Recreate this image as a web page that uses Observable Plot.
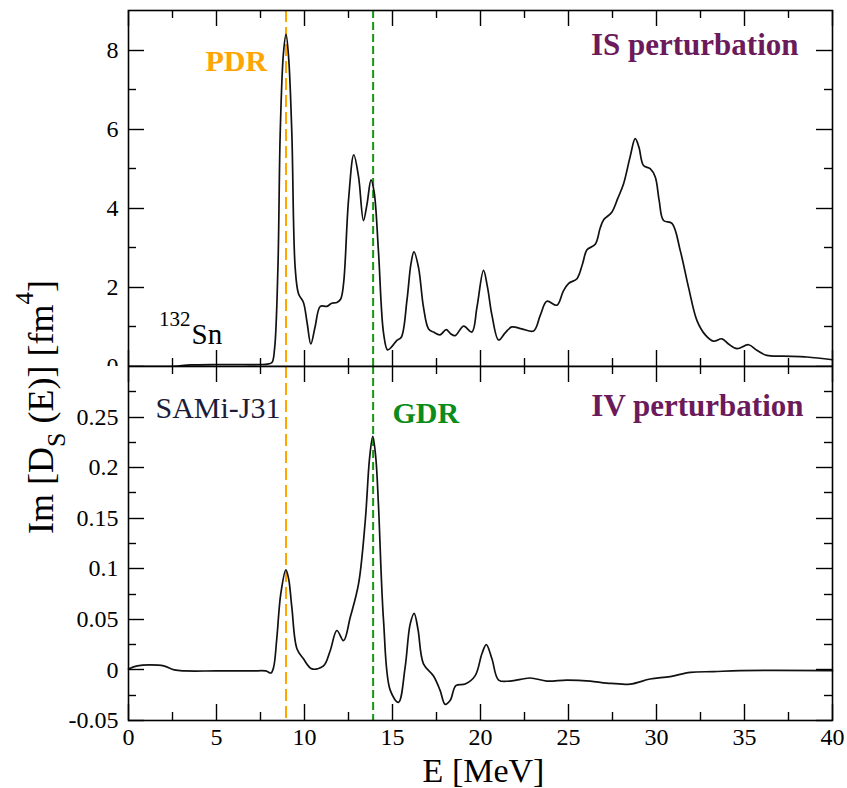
<!DOCTYPE html>
<html><head><meta charset="utf-8">
<script src="https://cdn.jsdelivr.net/npm/d3@7"></script>
<script src="https://cdn.jsdelivr.net/npm/@observablehq/plot@0.6"></script>
<style>
body{margin:0;background:#fff;}
#wrap{position:relative;width:847px;height:788px;font-family:"Liberation Serif",serif;}
#top{position:absolute;left:0;top:0;}
#bot{position:absolute;left:0;top:366px;}
#wrap svg{overflow:visible;}
#ytitle{position:absolute;left:41px;top:407px;transform:translate(-50%,-50%) rotate(-90deg);white-space:nowrap;font-size:36px;line-height:36px;color:#000;}
#ytitle .sub{font-size:26px;vertical-align:-12px;}
#ytitle .sup{font-size:25px;vertical-align:20px;}
</style></head><body>
<div id="wrap"><div id="top"></div><div id="bot"></div>
<div id="ytitle">Im [D<span class="sub">S</span> (E)] [fm<span class="sup">4</span>]</div></div>
<script>
// IS perturbation (top panel)
const topE = [0,2.5,3,3.5,5,6.5,7.5,7.9,8.15,8.3,8.49,8.62,8.8,8.95,9.1,9.28,9.47,9.66,9.94,10.15,10.36,10.6,10.9,11.27,11.55,11.84,12.05,12.22,12.5,12.8,13.07,13.35,13.55,13.78,13.96,14.2,14.49,14.72,14.96,15.25,15.5,15.82,16.05,16.22,16.48,16.76,17.05,17.33,17.7,18.05,18.3,18.56,19.04,19.51,19.8,20.17,20.4,20.65,21.03,21.4,21.78,22.35,23.02,23.4,23.77,24.34,24.7,25.01,25.48,25.8,26.05,26.52,26.8,27.0,27.46,27.8,28.13,28.5,28.79,29.0,29.26,29.64,29.93,30.15,30.4,30.88,31.35,31.82,32.3,32.77,33.24,33.72,34.09,34.57,35.23,35.7,36.27,37.22,38.55,40];
const topV = [0,0,0.02,0.04,0.05,0.05,0.05,0.06,0.1,0.45,2.5,5.9,7.9,8.4,7.8,5.9,2.5,1.84,1.62,1.1,0.57,1.0,1.52,1.52,1.6,1.62,1.7,2.1,4.2,5.35,4.8,3.69,4.1,4.72,4.4,2.93,0.85,0.42,0.5,0.66,0.74,1.67,2.6,2.9,2.5,1.5,0.95,0.87,0.8,0.93,0.83,0.78,1.02,0.87,1.5,2.43,2.0,1.3,0.67,0.85,1.0,0.95,0.9,1.3,1.65,1.55,1.9,2.1,2.22,2.6,2.95,3.09,3.5,3.71,3.9,4.25,4.62,5.3,5.76,5.55,5.08,5.0,4.79,4.2,3.69,3.62,2.93,2.0,1.16,0.8,0.64,0.7,0.57,0.45,0.55,0.41,0.28,0.26,0.24,0.17];
// IV perturbation (bottom panel)
const botE = [0,0.5,1.2,2,2.6,3.2,5,7,7.8,8.1,8.25,8.43,8.65,8.94,9.1,9.28,9.57,9.94,10.42,11.08,11.46,11.84,12.22,12.6,13.07,13.45,13.7,13.88,14.05,14.2,14.49,14.87,15.34,15.72,16.0,16.23,16.45,16.76,17.33,17.7,17.99,18.28,18.6,19.13,19.7,20.08,20.33,20.65,21.03,21.69,22.82,23.77,24.9,26.24,27.18,28.5,29.64,30.78,31.92,33.24,34.76,40];
const botV = [0.001,0.004,0.005,0.004,0.0,-0.001,-0.001,-0.001,-0.001,-0.003,0.003,0.032,0.075,0.099,0.09,0.062,0.021,0.011,0.001,0.004,0.019,0.039,0.029,0.052,0.085,0.147,0.21,0.231,0.21,0.164,0.049,-0.02,-0.032,0.003,0.045,0.056,0.04,0.006,-0.006,-0.02,-0.034,-0.03,-0.0155,-0.014,-0.0056,0.016,0.025,0.011,-0.01,-0.011,-0.008,-0.011,-0.010,-0.011,-0.013,-0.014,-0.009,-0.0066,-0.0024,-0.0017,-0.0007,-0.0007];
const xMajor = [0,5,10,15,20,25,30,35,40];
const xMinor = [2.5,7.5,12.5,17.5,22.5,27.5,32.5,37.5];
const topYMajor = [0,2,4,6,8];
const topYMinor = [1,3,5,7];
const botYMajor = [-0.05,0,0.05,0.1,0.15,0.2,0.25];
const botYMinor = [-0.025,0.025,0.075,0.125,0.175,0.225,0.275];
const pdrE = [8.95];
const gdrE = [13.9];

const ORANGE = "#ffa500", GREEN = "#109a10", PURPLE = "#6b1b5b";
const fmt = d => String(Math.round(d * 1000) / 1000);

const WIDTH = 847, ML = 128, MR = 15;
const XD = [0, 40];
const TOP_H = 366, TOP_MT = 10, TOP_MB = 0, TOP_YD = [0, 9];
const BOT_H = 422, BOT_MT = 0, BOT_MB = 68, BOT_YD = [-0.05, 0.3];

const common = {
  width: WIDTH, marginLeft: ML, marginRight: MR,
  x: {domain: XD, axis: null},
  style: {fontFamily: "Liberation Serif, serif", fontSize: "24px", color: "black", background: "white", overflow: "visible"}
};
const lbl = (t, o) => Plot.text([t], {text: d => d, lineAnchor: "bottom", ...o});

const topData = topE.map((e, i) => ({E: e, v: topV[i]}));
const botData = botE.map((e, i) => ({E: e, v: botV[i]}));

const topPlot = Plot.plot({
  ...common, height: TOP_H, marginTop: TOP_MT, marginBottom: TOP_MB,
  y: {domain: TOP_YD},
  marks: [
    Plot.axisY(topYMajor, {anchor: "left", tickSize: 0, tickPadding: 10, tickFormat: fmt, fontSize: 24, label: null}),
    Plot.ruleX(pdrE, {stroke: ORANGE, strokeWidth: 2, strokeDasharray: "12,5"}),
    Plot.ruleX(gdrE, {stroke: GREEN, strokeWidth: 2, strokeDasharray: "8,4"}),
    Plot.line(topData, {x: "E", y: "v", stroke: "#111", strokeWidth: 1.7, curve: "catmull-rom"}),
    Plot.frame({stroke: "black", strokeWidth: 1.6}),
    lbl("PDR", {frameAnchor: "top-left", dx: 77, dy: 60, textAnchor: "start", fill: ORANGE, fontWeight: "bold", fontSize: 30}),
    lbl("IS perturbation", {frameAnchor: "top-right", dx: -34, dy: 44, textAnchor: "end", fill: PURPLE, fontWeight: "bold", fontSize: 31}),
    lbl("Sn", {frameAnchor: "bottom-left", dx: 63, dy: -23, textAnchor: "start", fill: "black", fontSize: 29}),
    lbl("132", {frameAnchor: "bottom-left", dx: 62, dy: -41, textAnchor: "end", fill: "black", fontSize: 21})
  ]
});

const botPlot = Plot.plot({
  ...common, height: BOT_H, marginTop: BOT_MT, marginBottom: BOT_MB,
  y: {domain: BOT_YD},
  marks: [
    Plot.axisY(botYMajor, {anchor: "left", tickSize: 0, tickPadding: 10, tickFormat: fmt, fontSize: 24, label: null}),
    Plot.axisX(xMajor, {anchor: "bottom", tickSize: 0, tickPadding: 7, tickFormat: fmt, fontSize: 24, label: null}),
    Plot.ruleX(pdrE, {stroke: ORANGE, strokeWidth: 2, strokeDasharray: "12,5"}),
    Plot.ruleX(gdrE, {stroke: GREEN, strokeWidth: 2, strokeDasharray: "8,4"}),
    Plot.line(botData, {x: "E", y: "v", stroke: "#111", strokeWidth: 1.7, curve: "catmull-rom"}),
    Plot.frame({stroke: "black", strokeWidth: 1.6}),
    lbl("SAMi-J31", {frameAnchor: "top-left", dx: 27, dy: 51, textAnchor: "start", fill: "#1c1c3a", fontSize: 30}),
    lbl("GDR", {frameAnchor: "top-left", dx: 264, dy: 56, textAnchor: "start", fill: "#0c8c1c", fontWeight: "bold", fontSize: 30}),
    lbl("IV perturbation", {frameAnchor: "top-right", dx: -29, dy: 49, textAnchor: "end", fill: PURPLE, fontWeight: "bold", fontSize: 31}),
    lbl("E [MeV]", {frameAnchor: "bottom", dx: 3, dy: 61, textAnchor: "middle", fill: "black", fontSize: 34})
  ]
});

// inward tick marks on all four sides, placed through the plot's own x and y scales
function addTicks(svg, yMaj, yMin) {
  const sx = svg.scale("x"), sy = svg.scale("y");
  const xr = sx.range, yr = sy.range;
  const xl = Math.min(xr[0], xr[1]), xrt = Math.max(xr[0], xr[1]);
  const yt = Math.min(yr[0], yr[1]), yb = Math.max(yr[0], yr[1]);
  const g = d3.select(svg).append("g")
    .attr("aria-label", "inward ticks")
    .attr("stroke", "#000").attr("stroke-width", 1.4).attr("fill", "none");
  const seg = (x1, y1, x2, y2) => g.append("line")
    .attr("x1", x1).attr("y1", y1).attr("x2", x2).attr("y2", y2);
  for (const [vals, size] of [[xMajor, 16], [xMinor, 8]]) {
    for (const v of vals) {
      const x = Math.round(sx.apply(v)) + 0.5;
      seg(x, yb, x, yb - size);
      seg(x, yt, x, yt + size);
    }
  }
  for (const [vals, size] of [[yMaj, 16], [yMin, 8]]) {
    for (const v of vals) {
      const y = Math.round(sy.apply(v)) + 0.5;
      seg(xl, y, xl + size, y);
      seg(xrt, y, xrt - size, y);
    }
  }
}
addTicks(topPlot, topYMajor, topYMinor);
addTicks(botPlot, botYMajor, botYMinor);

document.getElementById("top").appendChild(topPlot);
document.getElementById("bot").appendChild(botPlot);
</script>
</body></html>
